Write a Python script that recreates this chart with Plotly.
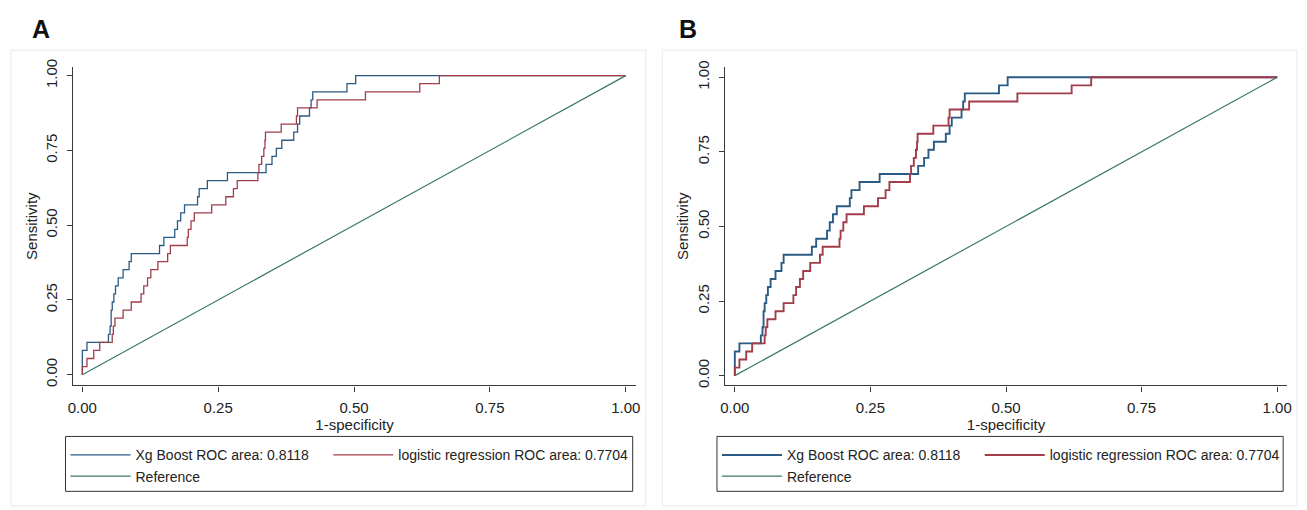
import plotly.graph_objects as go

W, H = 1307, 510

# ---- data ----
xgb_fpr = [0, 0, 0.0085, 0.048, 0.051, 0.053, 0.055, 0.058, 0.061, 0.066, 0.075, 0.086, 0.090,
           0.142, 0.150, 0.170, 0.175, 0.181, 0.188, 0.212, 0.215, 0.230, 0.267, 0.338, 0.349,
           0.357, 0.367, 0.389, 0.396, 0.400, 0.418, 0.421, 0.424, 0.487, 0.503, 1.0]
xgb_tpr = [0, 0.081, 0.108, 0.135, 0.162, 0.216, 0.243, 0.270, 0.297, 0.324, 0.351, 0.378, 0.405,
           0.432, 0.459, 0.486, 0.514, 0.541, 0.568, 0.595, 0.622, 0.649, 0.676, 0.703, 0.730,
           0.757, 0.784, 0.811, 0.838, 0.865, 0.892, 0.919, 0.946, 0.973, 1.0, 1.0]

lr_fpr = [0, 0, 0.0085, 0.021, 0.032, 0.055, 0.057, 0.060, 0.075, 0.090, 0.108, 0.113, 0.120,
          0.126, 0.139, 0.157, 0.162, 0.193, 0.195, 0.200, 0.206, 0.238, 0.264, 0.278, 0.285,
          0.323, 0.325, 0.330, 0.334, 0.336, 0.337, 0.366, 0.394, 0.396, 0.432, 0.521, 0.621,
          0.657, 1.0]
lr_tpr = [0, 0.027, 0.054, 0.081, 0.108, 0.135, 0.162, 0.189, 0.216, 0.243, 0.270, 0.297, 0.324,
          0.351, 0.378, 0.405, 0.432, 0.459, 0.486, 0.514, 0.541, 0.568, 0.595, 0.622, 0.649,
          0.676, 0.703, 0.730, 0.757, 0.784, 0.811, 0.838, 0.865, 0.892, 0.919, 0.946, 0.973,
          1.0, 1.0]

ref_x = [0, 1]
ref_y = [0, 1]

tick_vals = [0, 0.25, 0.5, 0.75, 1.0]
tick_text = ["0.00", "0.25", "0.50", "0.75", "1.00"]

names = ["Xg Boost ROC area: 0.8118", "logistic regression ROC area: 0.7704", "Reference"]
panel_labels = ["A", "B"]

C_XGB = "#2b5a84"
C_LR = "#a23d4a"
C_REF = "#3a7866"
FONT = "Liberation Sans, Arial, sans-serif"

fig = go.Figure()

def px_x(p):
    return p / W

def px_y(p):
    return 1 - p / H

panels = [
    dict(xa="x", ya="y", lw=1.3, legs=("legend", "legend2")),
    dict(xa="x2", ya="y2", lw=1.9, legs=("legend3", "legend4")),
]

for i, pnl in enumerate(panels):
    fig.add_trace(go.Scatter(x=xgb_fpr, y=xgb_tpr, mode="lines", line_shape="hv",
                             line=dict(color=C_XGB, width=pnl["lw"]), name=names[0],
                             xaxis=pnl["xa"], yaxis=pnl["ya"], legend=pnl["legs"][0]))
    fig.add_trace(go.Scatter(x=lr_fpr, y=lr_tpr, mode="lines", line_shape="hv",
                             line=dict(color=C_LR, width=pnl["lw"]), name=names[1],
                             xaxis=pnl["xa"], yaxis=pnl["ya"], legend=pnl["legs"][1]))
    fig.add_trace(go.Scatter(x=ref_x, y=ref_y, mode="lines",
                             line=dict(color=C_REF, width=1.2), name=names[2],
                             xaxis=pnl["xa"], yaxis=pnl["ya"], legend=pnl["legs"][0]))

axis_common = dict(
    showgrid=False, zeroline=False, showline=True, linecolor="#3a3a3a", linewidth=1.2,
    ticks="outside", ticklen=5, tickcolor="#3a3a3a", tickwidth=1.2,
    tickvals=tick_vals, ticktext=tick_text,
    tickfont=dict(family=FONT, size=15, color="#222"),
)

# geometry (pixels) of the two plot areas
geo = [
    dict(l=68, r=635, t=60, b=385, x0=77, x1=625, y0=374, y1=69),
    dict(l=725, r=1292, t=60, b=385, x0=735, x1=1282, y0=375, y1=70.7),
]

lay = {}
for i, g in enumerate(geo):
    sx = (g["x1"] - g["x0"])
    sy = (g["y0"] - g["y1"])
    xr = [(g["l"] - g["x0"]) / sx, (g["r"] - g["x0"]) / sx]
    yr = [(g["y0"] - g["b"]) / sy, (g["y0"] - g["t"]) / sy]
    sfx = "" if i == 0 else "2"
    lay["xaxis" + sfx] = dict(axis_common, domain=[px_x(g["l"]), px_x(g["r"])], range=xr,
                              anchor="y" + sfx, ticklabelstandoff=3,
                              title=dict(text="1-specificity", standoff=2,
                                         font=dict(family=FONT, size=15, color="#222")))
    lay["yaxis" + sfx] = dict(axis_common, domain=[px_y(g["b"]), px_y(g["t"])], range=yr,
                              anchor="x" + sfx, tickangle=-90, ticklabelstandoff=4,
                              title=dict(text="Sensitivity", standoff=2,
                                         font=dict(family=FONT, size=15, color="#222")))

leg_common = dict(orientation="v", xanchor="left", yanchor="top", bgcolor="rgba(0,0,0,0)",
                  borderwidth=0, itemwidth=60, tracegroupgap=0,
                  font=dict(family=FONT, size=14, color="#222"))

lay["legend"] = dict(leg_common, x=px_x(60), y=px_y(440))
lay["legend2"] = dict(leg_common, x=px_x(325), y=px_y(440))
lay["legend3"] = dict(leg_common, x=px_x(717), y=px_y(440))
lay["legend4"] = dict(leg_common, x=px_x(982), y=px_y(440))

shapes = []
# panel frames
for (a, b) in [(5, 645), (662, 1302)]:
    shapes.append(dict(type="rect", xref="paper", yref="paper", x0=px_x(a), x1=px_x(b),
                       y0=px_y(508), y1=px_y(43), line=dict(color="#f0f0f0", width=1.5),
                       layer="below"))
# legend boxes
for (a, b) in [(60, 632), (717, 1288)]:
    shapes.append(dict(type="rect", xref="paper", yref="paper", x0=px_x(a), x1=px_x(b),
                       y0=px_y(493), y1=px_y(437), line=dict(color="#333", width=1)))

annotations = []
for lab, xpx in zip(panel_labels, [24, 677]):
    annotations.append(dict(text="<b>%s</b>" % lab, x=px_x(xpx), y=px_y(21), xref="paper",
                            yref="paper", xanchor="left", yanchor="middle", showarrow=False,
                            font=dict(family=FONT, size=25, color="#111")))

fig.update_layout(width=W, height=H, margin=dict(l=0, r=0, t=0, b=0),
                  paper_bgcolor="white", plot_bgcolor="white", showlegend=True,
                  shapes=shapes, annotations=annotations, **lay)

fig.write_html("out.html")
